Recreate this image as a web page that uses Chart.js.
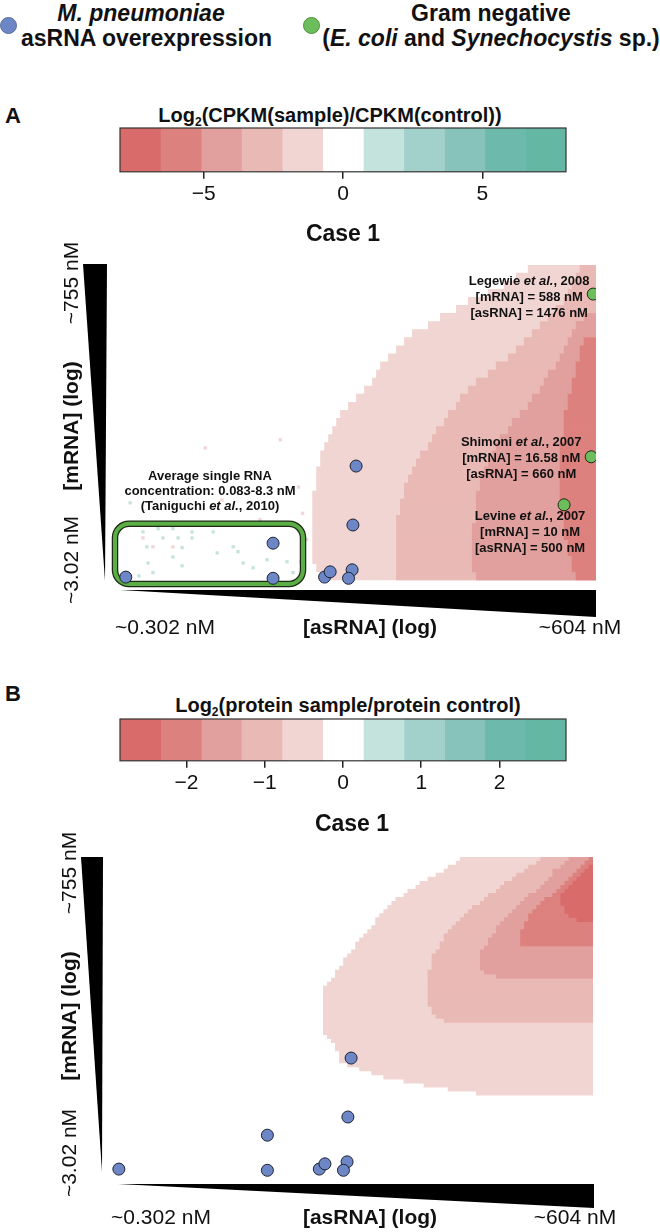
<!DOCTYPE html>
<html>
<head>
<meta charset="utf-8">
<script src="https://cdn.jsdelivr.net/npm/chart.js@4.4.1/dist/chart.umd.min.js"></script>
<style>
body { margin: 0; background: #fff; font-family: 'Liberation Sans', Arial, Helvetica, sans-serif; color: #111; }
#page { position: relative; width: 660px; height: 1232px; overflow: hidden; }
.abs { position: absolute; white-space: nowrap; }
.lg { font-weight: bold; font-size: 23px; line-height: 25px; text-align: center; }
.dot { width: 15px; height: 15px; border-radius: 50%; }
.pl { font-weight: bold; font-size: 22px; }
.cbt { font-weight: bold; font-size: 20px; line-height: 22px; text-align: center; width: 660px; }
.cbt sub { font-size: 12px; vertical-align: -4px; line-height: 0; }
canvas { position: absolute; left: 0; }
</style>
</head>
<body>
<div id="page">
  <div class="abs dot" style="left:0px;top:17px;background:#6d87c6;border:1px solid #5a6f9e"></div>
  <div class="abs lg" style="left:21px;width:240px;top:1px"><i>M. pneumoniae</i><br>asRNA overexpression</div>
  <div class="abs dot" style="left:303px;top:17px;background:#6cbd5b;border:1px solid #4f8f41"></div>
  <div class="abs lg" style="left:321px;width:340px;top:1px">Gram negative<br>(<i>E. coli</i> and <i>Synechocystis</i> sp.)</div>

  <div class="abs pl" style="left:5px;top:103px">A</div>
  <div class="abs cbt" style="left:0px;top:104px">Log<sub>2</sub>(CPKM(sample)/CPKM(control))</div>
  <canvas id="barA" width="660" height="90" style="top:120px"></canvas>
  <canvas id="heatA" width="660" height="430" style="top:215px"></canvas>

  <div class="abs pl" style="left:5px;top:681px">B</div>
  <div class="abs cbt" style="left:18px;top:694px">Log<sub>2</sub>(protein sample/protein control)</div>
  <canvas id="barB" width="660" height="88" style="top:711px"></canvas>
  <canvas id="heatB" width="660" height="442" style="top:790px"></canvas>
</div>
<script>
var family = "'Liberation Sans', Arial, Helvetica, sans-serif";

// colour key: 11 bins from red (down) to teal (up)
var binColors = ['#d96b6a', '#dd817f', '#e1a09d', '#e9b9b6', '#f0d5d2', '#ffffff', '#c4e3dd', '#a2d0ca', '#87c3ba', '#6db9ac', '#63b7a3'];
var cpkmEdges = [-8, -6.55, -5.09, -3.64, -2.18, -0.73, 0.73, 2.18, 3.64, 5.09, 6.55, 8];
var cpkmTicks = [-5, 0, 5];
var protEdges = [-2.85, -2.33, -1.81, -1.30, -0.78, -0.26, 0.26, 0.78, 1.30, 1.81, 2.33, 2.85];
var protTicks = [-2, -1, 0, 1, 2];

// M. pneumoniae asRNA overexpression experiments (grid units: asRNA column 0-120, mRNA row 0-80 from the top)
var mpnAsRNA = [2.2, 39.1, 39.1, 52.0, 53.4, 59.9, 59.1, 58.9, 58.0];
var mpnMRNA = [77.3, 68.9, 77.6, 77.3, 76.0, 49.8, 64.4, 75.5, 77.6];

// Gram negative references
var refNames = ['Legewie', 'Shimoni', 'Levine'];
var refYears = ['2008', '2007', '2007'];
var refMRNAnM = ['588', '16.58', '10'];
var refAsRNAnM = ['1476', '660', '500'];
var refAsRNA = [119.3, 118.8, 112.0];
var refMRNA = [7.2, 47.5, 59.4];

// single RNA concentration box (Taniguchi et al., 2010)
var boxAsRNA = [-0.5, 46.6];
var boxMRNA = [64.1, 79.0];

// panel A: first asRNA column of each log2 CPKM level, per mRNA row (40 rows, top = high mRNA)
var cpkmLevel1 = [103, 100, 97, 93, 88, 85, 81, 78, 74, 72, 70, 68, 66, 65, 64, 62, 60, 58, 56, 55,
  54, 53, 52, 51, 51, 50, 50, 50, 49, 49, 49, 49, 49, 49, 49, 49, 49, 50, 51];
var cpkmLevel2 = [116, 115, 114, 113, 112, 110, 108, 106, 104, 102, 100, 98, 95, 93, 90, 88, 86, 85, 83, 82,
  80, 79, 78, 76, 75, 74, 73, 72, 72, 71, 71, 70, 70, 70, 70, 70, 70, 70, 70];
var cpkmLevel3 = [null, null, null, null, null, null, 117, 115, 114, 113, 112, 111, 110, 108, 107, 106, 104, 103, 101, 99,
  98, 96, 95, 94, 93, 92, 91, 91, 90, 90, 90, 90, 89, 89, 89, 89, 89, 89, 90];
var cpkmLevel4 = [null, null, null, null, null, null, null, null, null, 117, 116, 116, 115, 115, 114, 114, 113, 113, 112, 112,
  112, 112, 111, 111, 111, 111, 111, 111, 111, 111, 111, 112, 112, 112, 113, 113, 114, 114, 115];

// panel A: scattered low-count cells in the single RNA range
var noiseUpX = [6.5, 10.3, 14.0, 18.8, 11.5, 15.3, 18.8, 7.5, 16.3, 14.0, 7.8, 16.3, 9.0, 5.5, 24.1, 29.1, 30.3, 25.1, 31.6, 37.6, 42.6, 34.1, 44.1, 3.3];
var noiseUpY = [66.1, 65.3, 65.3, 66.1, 67.6, 67.6, 67.6, 69.8, 70.0, 72.3, 73.8, 74.5, 76.2, 77.0, 66.1, 69.8, 71.0, 71.3, 73.8, 73.0, 73.5, 75.0, 76.2, 58.9];
var noiseDownX = [6.5, 9.0, 14.0, 22.1, 26.3, 35.8, 40.9, 45.5, 46.5, 47.5, 46.0];
var noiseDownY = [67.6, 69.8, 69.8, 45.3, 58.2, 63.1, 43.3, 55.0, 61.5, 68.0, 73.5];

// panel B: first asRNA column of each log2 protein level, per mRNA row (80 rows)
var protLevel1 = [87, 86, 84, 83, 81, 79, 77, 76, 74, 73, 71, 70, 69, 68, 67, 66, 66, 65, 64, 63,
  62, 61, 61, 60, 59, 58, 58, 57, 56, 56, 55, 54, 53, 53, 53, 53, 53, 53, 53, 53,
  53, 53, 53, 53, 54, 55, 56, 56, 57, 57, 57, 59, 62, 65, 68, 73, 78, 84, 91];
var protLevel2 = [107, 106, 104, 103, 101, 100, 98, 97, 96, 94, 93, 92, 90, 89, 88, 87, 86, 85, 84, 83,
  83, 82, 82, 81, 80, 80, 80, 80, 79, 79, 79, 79, 79, 79, 79, 79, 79, 80, 80, 81, 83];
var protLevel3 = [114, 113, 112, 110, 110, 109, 108, 107, 106, 104, 103, 102, 101, 100, 99, 98, 97, 96, 96, 95,
  94, 94, 93, 92, 92, 92, 92, 92, 93, 96];
var protLevel4 = [119, 118, 117, 116, 115, 114, 113, 112, 111, 110, 108, 107, 106, 105, 104, 104, 103, 103, 102, 102, 102, 102];
var protLevel5 = [null, null, 119, 118, 117, 116, 115, 114, 113, 112, 112, 112, 113, 113, 114, 116];

var nCols = 120;

function fnt(size, bold, italic) {
  return (italic ? 'italic ' : '') + (bold ? 'bold ' : '') + size + 'px ' + family;
}

function richText(ctx, parts, x, y, size, align) {
  ctx.save();
  ctx.textAlign = 'left';
  ctx.textBaseline = 'middle';
  var widths = parts.map(function (p) { ctx.font = fnt(size, true, p[1]); return ctx.measureText(p[0]).width; });
  var total = widths.reduce(function (a, b) { return a + b; }, 0);
  var cx = align === 'right' ? x - total : (align === 'center' ? x - total / 2 : x);
  parts.forEach(function (p, i) {
    ctx.font = fnt(size, true, p[1]);
    ctx.fillText(p[0], cx, y);
    cx += widths[i];
  });
  ctx.restore();
}

var frame = {
  id: 'frame',
  afterDatasetsDraw: function (chart) {
    var a = chart.chartArea, ctx = chart.ctx;
    ctx.save();
    ctx.strokeStyle = '#333';
    ctx.lineWidth = 1.2;
    ctx.strokeRect(a.left, a.top, a.right - a.left, a.bottom - a.top);
    ctx.restore();
  }
};

function colorKey(id, edges, ticks) {
  new Chart(document.getElementById(id), {
    type: 'bar',
    data: {
      labels: ['key'],
      datasets: binColors.map(function (c, i) {
        return { data: [[edges[i], edges[i + 1]]], backgroundColor: c, borderWidth: 0, grouped: false,
          barPercentage: 1, categoryPercentage: 1 };
      })
    },
    options: {
      indexAxis: 'y', responsive: false, animation: false, events: [], devicePixelRatio: 1,
      layout: { padding: { left: 120, right: 94, top: 8, bottom: 0 } },
      plugins: { legend: { display: false }, tooltip: { enabled: false } },
      scales: {
        x: {
          type: 'linear', min: edges[0], max: edges[edges.length - 1], offset: false,
          afterBuildTicks: function (s) { s.ticks = ticks.map(function (v) { return { value: v }; }); },
          grid: { drawOnChartArea: false, tickLength: 7, color: '#222', lineWidth: 1.5 },
          border: { display: false },
          ticks: { font: { size: 21, family: family }, color: '#111', padding: 3, autoSkip: false, maxRotation: 0,
            callback: function (v) { return v < 0 ? '\u2212' + Math.abs(v) : String(v); } }
        },
        y: { display: false, offset: true }
      }
    },
    plugins: [frame]
  });
}

colorKey('barA', cpkmEdges, cpkmTicks);
colorKey('barB', protEdges, protTicks);

function levelSet(rows, color, order) {
  return {
    type: 'bar', indexAxis: 'y', xAxisID: 'x', yAxisID: 'yc', order: order,
    data: rows.map(function (v) { return v == null ? null : [v, nCols]; }),
    backgroundColor: color, borderWidth: 0, grouped: false, barPercentage: 1, categoryPercentage: 1
  };
}

function pointSet(xs, ys, fill, stroke, order, style, radius) {
  return {
    type: 'scatter', xAxisID: 'x', yAxisID: 'y', order: order,
    data: xs.map(function (x, i) { return { x: x, y: ys[i] }; }),
    backgroundColor: fill, borderColor: stroke, borderWidth: stroke ? 1 : 0,
    pointRadius: radius, pointStyle: style
  };
}

function makeDeco(p) {
  return {
    id: 'deco',
    beforeDatasetDraw: function (chart, args) {
      if (!p.box || args.index !== 1) return;
      var ctx = chart.ctx, xs = chart.scales.x, ys = chart.scales.y;
      var x0 = xs.getPixelForValue(boxAsRNA[0]), x1 = xs.getPixelForValue(boxAsRNA[1]);
      var y0 = ys.getPixelForValue(boxMRNA[0]), y1 = ys.getPixelForValue(boxMRNA[1]);
      ctx.save();
      ctx.beginPath();
      ctx.roundRect(x0, y0, x1 - x0, y1 - y0, 14);
      ctx.strokeStyle = '#1c2a14';
      ctx.lineWidth = 6.5;
      ctx.stroke();
      ctx.strokeStyle = '#5aae45';
      ctx.lineWidth = 4;
      ctx.stroke();
      ctx.fillStyle = '#111';
      var cx = (x0 + x1) / 2 + 1;
      richText(ctx, [['Average single RNA', false]], cx, y0 - 47, 13, 'center');
      richText(ctx, [['concentration: 0.083-8.3 nM', false]], cx, y0 - 32, 13, 'center');
      richText(ctx, [['(Taniguchi ', false], ['et al.', true], [', 2010)', false]], cx, y0 - 17, 13, 'center');
      ctx.restore();
    },
    afterDraw: function (chart) {
      var ctx = chart.ctx, a = chart.chartArea, off = p.top;
      ctx.save();
      ctx.fillStyle = '#000';
      // mRNA wedge
      ctx.beginPath();
      ctx.moveTo(a.left + p.vt[0], a.top + p.vt[2]);
      ctx.lineTo(a.left + p.vt[1], a.top + p.vt[2]);
      ctx.lineTo(a.left + p.vt[3], a.bottom + p.vt[4]);
      ctx.closePath();
      ctx.fill();
      // asRNA wedge
      ctx.beginPath();
      ctx.moveTo(a.left + p.ht[0], a.bottom + p.ht[1]);
      ctx.lineTo(a.right + p.ht[3], a.bottom + p.ht[1]);
      ctx.lineTo(a.right + p.ht[3], a.bottom + p.ht[2]);
      ctx.closePath();
      ctx.fill();

      ctx.fillStyle = '#111';
      ctx.textAlign = 'center';
      ctx.textBaseline = 'middle';
      ctx.font = fnt(23, true);
      ctx.fillText('Case 1', p.title[0], p.title[1] - off);

      var yl = [['~755 nM', false], ['[mRNA] (log)', true], ['~3.02 nM', false]];
      yl.forEach(function (t, i) {
        ctx.save();
        ctx.translate(p.yLab[0], p.yLab[i + 1] - off);
        ctx.rotate(-Math.PI / 2);
        ctx.font = fnt(21, t[1]);
        ctx.fillText(t[0], 0, 0);
        ctx.restore();
      });
      var xl = [['~0.302 nM', false], ['[asRNA] (log)', true], ['~604 nM', false]];
      xl.forEach(function (t, i) {
        ctx.font = fnt(21, t[1]);
        ctx.fillText(t[0], p.xLab[i + 1], p.xLab[0] - off);
      });

      if (p.refs) {
        var xs = chart.scales.x, ys = chart.scales.y;
        var lab = [[-64, -13], [-70, -14], [-34, 12]];
        refNames.forEach(function (n, i) {
          var px = xs.getPixelForValue(refAsRNA[i]) + lab[i][0];
          var py = ys.getPixelForValue(refMRNA[i]) + lab[i][1];
          richText(ctx, [[n + ' ', false], ['et al.', true], [', ' + refYears[i], false]], px, py, 13, 'center');
          richText(ctx, [['[mRNA] = ' + refMRNAnM[i] + ' nM', false]], px, py + 16, 13, 'center');
          richText(ctx, [['[asRNA] = ' + refAsRNAnM[i] + ' nM', false]], px, py + 32, 13, 'center');
        });
      }
      ctx.restore();
    }
  };
}

function heatmap(id, nRows, levels, extra, pad, deco) {
  var labels = [];
  for (var r = 0; r < nRows; r++) labels.push(r);
  var sets = [
    pointSet(mpnAsRNA, mpnMRNA, '#6d87c6', '#1d2233', 0, 'circle', 6),
    deco.refs ? pointSet(refAsRNA, refMRNA, '#6cbd5b', '#1d2a18', 1, 'circle', 6) : pointSet([], [], '#6cbd5b', '#1d2a18', 1, 'circle', 6)
  ].concat(extra).concat(levels.map(function (rows, i) {
    return levelSet(rows, binColors[4 - i], 10 - i);
  }));
  new Chart(document.getElementById(id), {
    type: 'bar',
    data: { labels: labels, datasets: sets },
    options: {
      responsive: false, animation: false, events: [], devicePixelRatio: 1,
      layout: { padding: pad },
      plugins: { legend: { display: false }, tooltip: { enabled: false } },
      scales: {
        x: { type: 'linear', min: 0, max: nCols, display: false, offset: false },
        yc: { type: 'category', axis: 'y', display: false, offset: true },
        y: { type: 'linear', min: 0, max: 80, reverse: true, display: false, offset: false }
      }
    },
    plugins: [makeDeco(deco)]
  });
}

heatmap('heatA', 40, [cpkmLevel1, cpkmLevel2, cpkmLevel3, cpkmLevel4], [
  pointSet(noiseUpX, noiseUpY, binColors[6], null, 2, 'rect', 2.3),
  pointSet(noiseDownX, noiseDownY, binColors[4], null, 2, 'rect', 2.3)
], { left: 117, right: 64, top: 50, bottom: 57 }, {
  top: 215, box: true, refs: true,
  vt: [-34, -10, -1, -12, -7], ht: [3, 2, 29, 0],
  title: [343, 235], yLab: [72, 283, 426, 560], xLab: [628, 165, 370, 580]
});

heatmap('heatB', 80, [protLevel1, protLevel2, protLevel3, protLevel4, protLevel5], [],
  { left: 110, right: 67, top: 67, bottom: 52 }, {
  top: 790, box: false, refs: false,
  vt: [-29, -7, 0, -8, -8], ht: [8, 4, 28, 1],
  title: [352, 825], yLab: [70, 873, 1016, 1153], xLab: [1218, 161, 370, 575]
});
</script>
</body>
</html>
